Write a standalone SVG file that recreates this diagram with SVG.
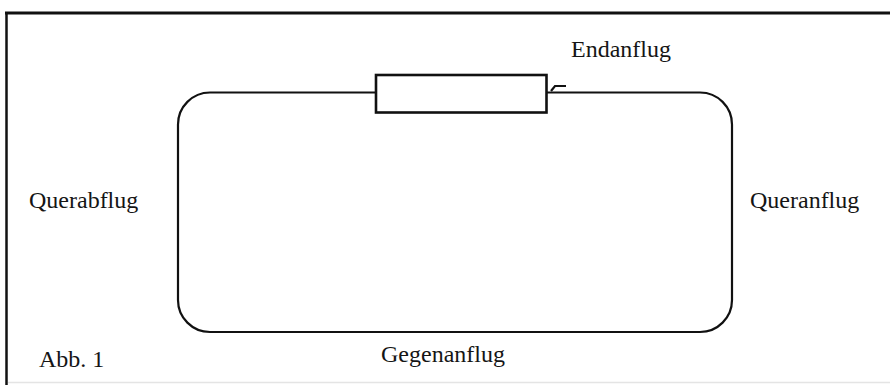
<svg xmlns="http://www.w3.org/2000/svg" width="890" height="385" viewBox="0 0 890 385">
<style>
.lbl{font-family:"Liberation Serif","Times New Roman",serif;font-size:24px;fill:#151515}
.ln{fill:none;stroke:#111;stroke-width:2.2}
</style>
<rect x="0" y="0" width="890" height="385" fill="#fff"/>
<g id="frame">
<path d="M5,13 H890" stroke="#111" stroke-width="3" fill="none"/>
<path d="M6.5,12 V385" stroke="#111" stroke-width="2.5" fill="none"/>
<path d="M8,382.5 H890" stroke="#e4e4e4" stroke-width="1.5" fill="none"/>
</g>
<g id="connectors">
<rect id="circuit" class="ln" x="178" y="92.5" width="554" height="239.5" rx="32" ry="32"/>
<path class="ln" d="M551,91 L555,86 L566,86" stroke-width="1.6"/>
</g>
<g id="runway">
<rect x="376" y="75" width="170.5" height="37.5" fill="#fff" stroke="#111" stroke-width="2.6"/>
</g>
<g id="endanflug"><text class="lbl" x="571" y="57">Endanflug</text></g>
<g id="querabflug"><text class="lbl" x="29" y="208">Querabflug</text></g>
<g id="queranflug"><text class="lbl" x="750" y="208">Queranflug</text></g>
<g id="gegenanflug"><text class="lbl" x="381" y="362">Gegenanflug</text></g>
<g id="abb"><text class="lbl" x="39" y="367">Abb. 1</text></g>
</svg>
